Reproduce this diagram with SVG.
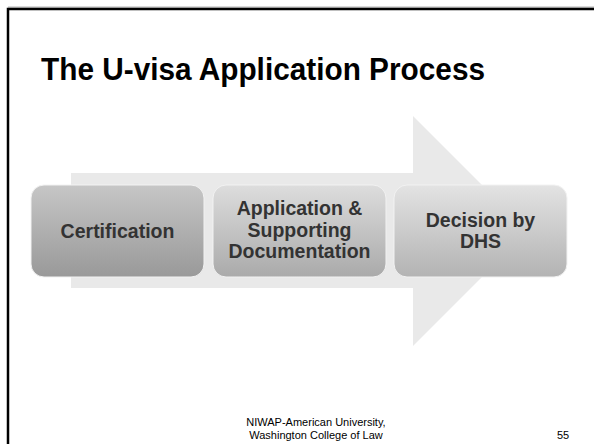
<svg xmlns="http://www.w3.org/2000/svg" width="594" height="444" viewBox="0 0 594 444">
  <style>
    .title { font-family: "Liberation Sans", Arial, sans-serif; font-weight: bold; font-size: 31.5px; fill: #000; }
    .label { font-family: "Liberation Sans", Arial, sans-serif; font-weight: bold; font-size: 19.5px; fill: #333; text-anchor: middle; }
    .foot { font-family: "Liberation Sans", Arial, sans-serif; font-size: 11px; fill: #000; }
    .box { stroke: #f2f2f2; stroke-width: 1; }
  </style>
  <defs>
    <linearGradient id="g1" x1="0" y1="0" x2="0" y2="1">
      <stop offset="0" stop-color="#c6c6c6"/>
      <stop offset="1" stop-color="#999999"/>
    </linearGradient>
    <linearGradient id="g2" x1="0" y1="0" x2="0" y2="1">
      <stop offset="0" stop-color="#dddddd"/>
      <stop offset="1" stop-color="#aaaaaa"/>
    </linearGradient>
    <linearGradient id="g3" x1="0" y1="0" x2="0" y2="1">
      <stop offset="0" stop-color="#e3e3e3"/>
      <stop offset="1" stop-color="#b3b3b3"/>
    </linearGradient>
  </defs>

  <rect width="594" height="444" fill="#ffffff"/>
  <!-- slide frame -->
  <path d="M8,444 V9 H594" fill="none" stroke="#000" stroke-width="2.5"/>
  <line x1="8" y1="7.2" x2="594" y2="7.2" stroke="#888" stroke-width="1"/>

  <text class="title" x="41" y="80" textLength="444" lengthAdjust="spacingAndGlyphs">The U-visa Application Process</text>

  <!-- background process arrow -->
  <g id="connectors">
    <path d="M71,173 H413 V116 L528,231 L413,346 V288 H71 Z" fill="#e9e9e9"/>
  </g>

  <g id="certification">
    <rect class="box" x="31" y="185" width="173" height="92" rx="13" fill="url(#g1)"/>
    <text class="label" x="117.5" y="238">Certification</text>
  </g>

  <g id="application">
    <rect class="box" x="213" y="185" width="173" height="92" rx="13" fill="url(#g2)"/>
    <text class="label" x="299.5" y="215">Application &amp;</text>
    <text class="label" x="299.5" y="236.5">Supporting</text>
    <text class="label" x="299.5" y="258">Documentation</text>
  </g>

  <g id="decision">
    <rect class="box" x="394" y="185" width="173" height="92" rx="13" fill="url(#g3)"/>
    <text class="label" x="480.5" y="227">Decision by</text>
    <text class="label" x="480.5" y="248">DHS</text>
  </g>

  <text class="foot" x="316" y="426" text-anchor="middle">NIWAP-American University,</text>
  <text class="foot" x="316" y="438.5" text-anchor="middle">Washington College of Law</text>
  <text class="foot" x="563" y="438.5" text-anchor="middle">55</text>
</svg>
